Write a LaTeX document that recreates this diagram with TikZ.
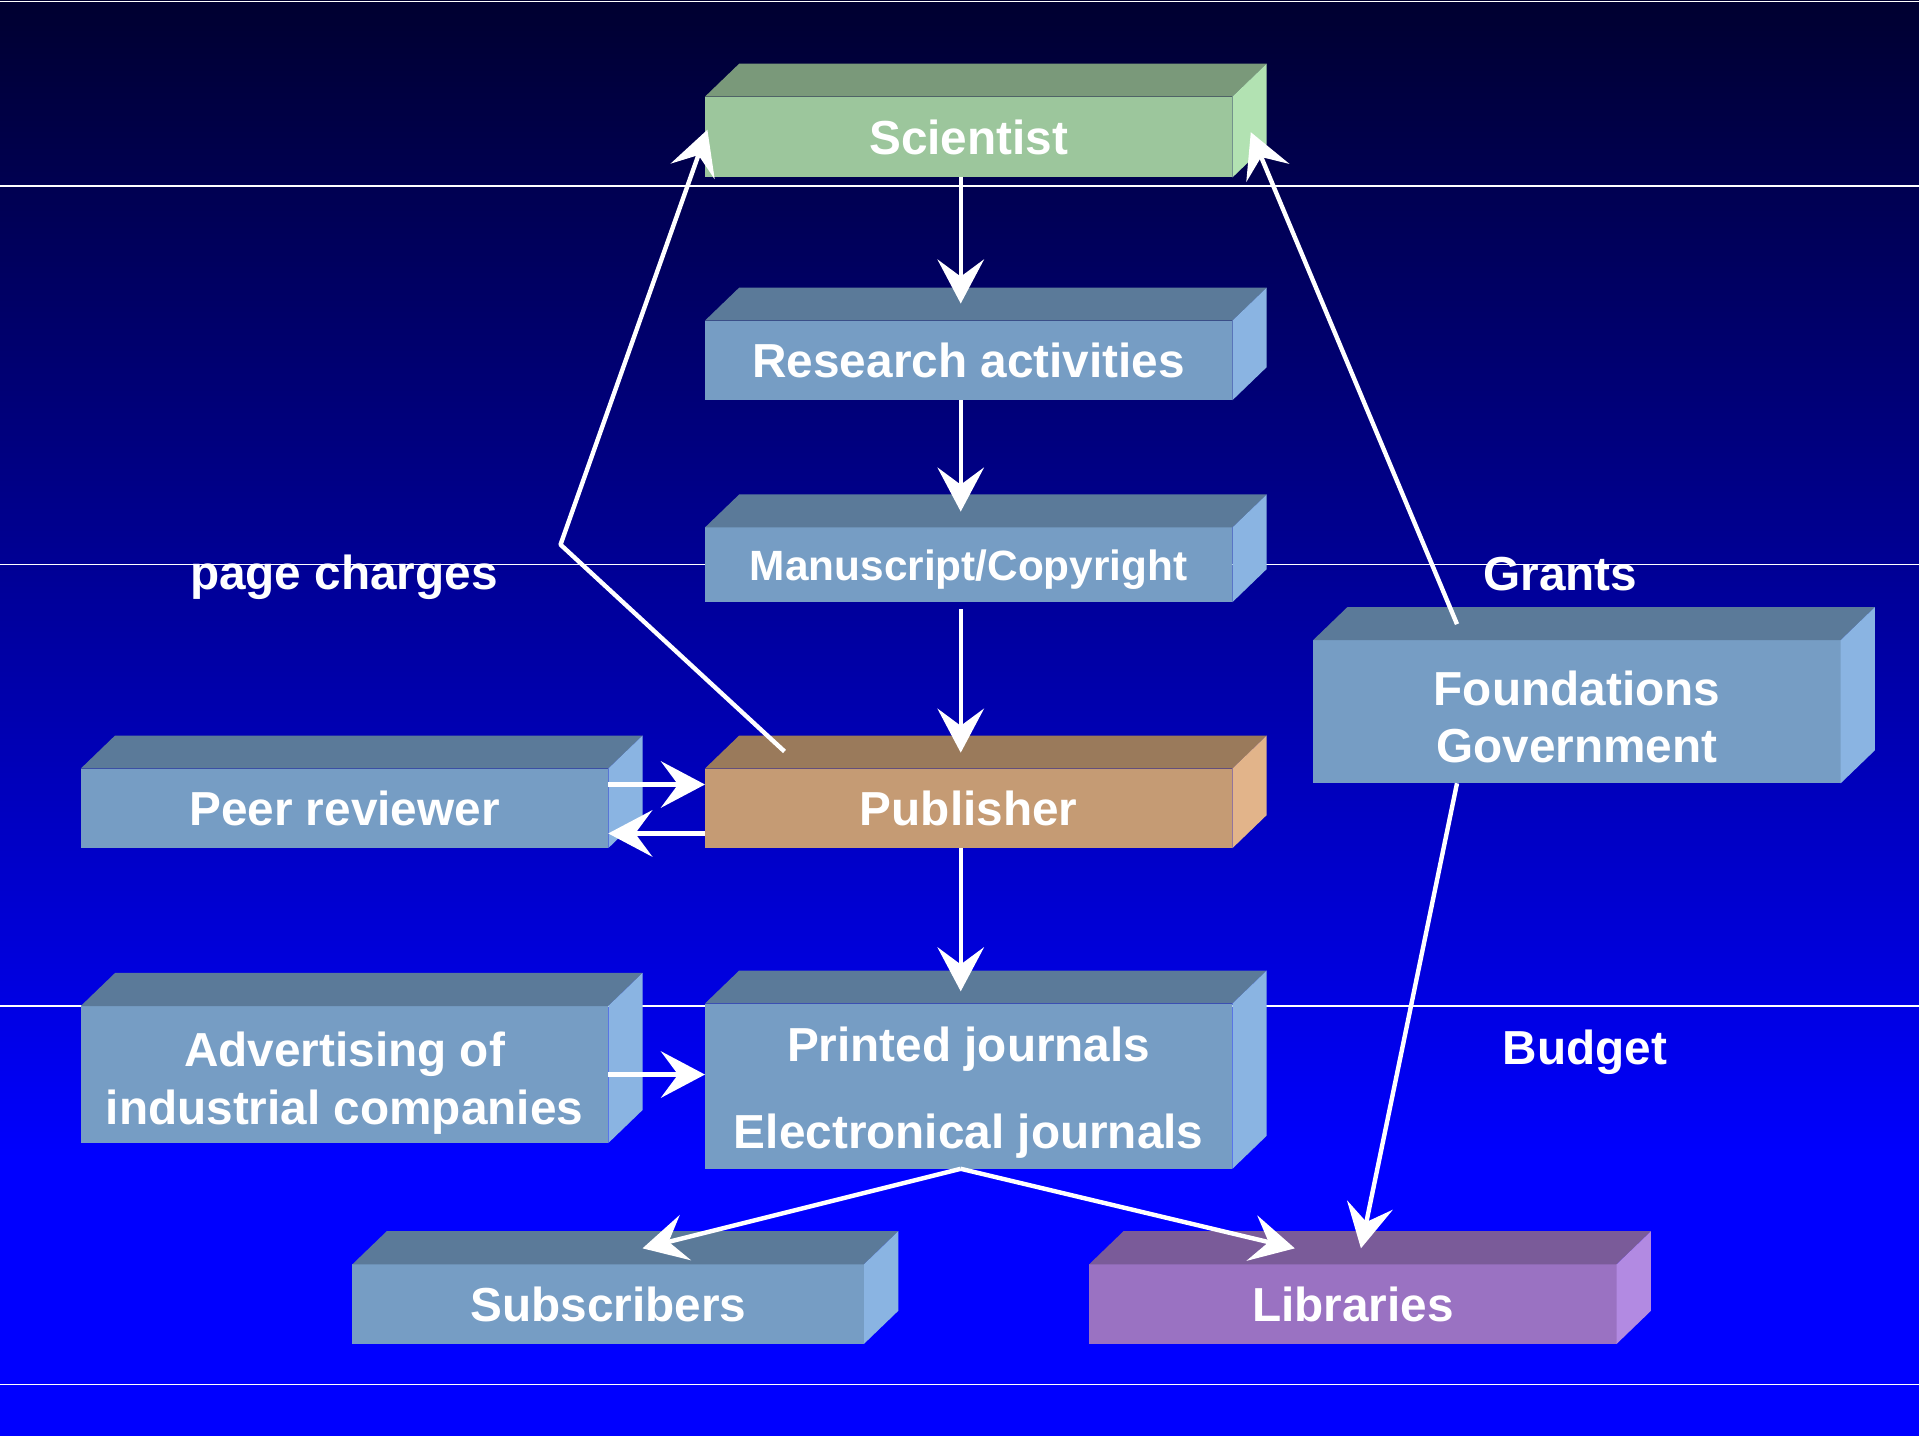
\documentclass[tikz,border=0pt]{standalone}
\usepackage{fontspec}
\setmainfont{Liberation Sans}
\usetikzlibrary{arrows.meta}
% colours of the faces
\definecolor{bgtop}{RGB}{0,0,48}
\definecolor{bgbot}{RGB}{0,0,255}
\definecolor{grnF}{RGB}{156,198,156}
\definecolor{grnT}{RGB}{122,153,122}
\definecolor{grnS}{RGB}{178,226,178}
\definecolor{bluF}{RGB}{118,157,196}
\definecolor{bluT}{RGB}{91,122,153}
\definecolor{bluS}{RGB}{138,180,226}
\definecolor{tanF}{RGB}{197,155,116}
\definecolor{tanT}{RGB}{154,122,91}
\definecolor{tanS}{RGB}{226,180,138}
\definecolor{vioF}{RGB}{154,114,194}
\definecolor{vioT}{RGB}{122,91,153}
\definecolor{vioS}{RGB}{178,138,226}
% top and side face of a block
\newcommand\faces[3]{%
  \fill[#2] (#1.north west) -- ++(\dx,\dy) -- ([shift={(\dx,\dy)}]#1.north east) -- (#1.north east) -- cycle;
  \fill[#3] (#1.north east) -- ++(\dx,\dy) -- ([shift={(\dx,\dy)}]#1.south east) -- (#1.south east) -- cycle;}
\begin{document}
\begin{tikzpicture}[x=0.5pt,y=-0.5pt,line join=round,
    >={Stealth[length=18pt,width=19pt,inset=7pt]},
    box/.style={minimum width=215.5pt,inner sep=0pt,outer sep=0pt,text=white,align=center,
      font=\bfseries\fontsize{19.5}{23.5}\selectfont},
    flow/.style={->,white,line width=1.8pt},
    note/.style={text=white,font=\bfseries\fontsize{19.5}{23.5}\selectfont}]
  \def\dx{14pt} % chieu sau ngang
  \def\dy{13.5pt} % chieu sau dung
  % nen
  \useasboundingbox (0,0) rectangle (1568,1173);
  \shade[top color=bgtop,bottom color=bgbot] (0,0) rectangle (1568,950);
  \fill[bgbot] (0,950) rectangle (1568,1173);
  \foreach \y in {1,152,461,822,1131}
    \draw[white,line width=0.5pt] (0,\y) -- (1568,\y);
  % khoi
  \node[box,fill=grnF,minimum height=33pt] (sci) at (791.5,112) {Scientist};
  \node[box,fill=bluF,minimum height=32.5pt] (res) at (791.5,294.5) {Research activities};
  \node[box,fill=bluF,minimum height=30.5pt,text depth=0pt,font=\bfseries\fontsize{17.3}{21}\selectfont] (man) at (791.5,461.5) {Manuscript/Copyright};
  \node[box,fill=tanF,minimum height=32.5pt] (pub) at (791.5,660.5) {Publisher};
  \node[box,fill=bluF,minimum height=67.5pt] (jour) at (791.5,887.5) {\rule{0pt}{19.5pt}Printed journals\\[12pt]Electronical journals};
  \node[box,fill=bluF,minimum height=32.5pt] (peer) at (281.5,660.5) {Peer reviewer};
  \node[box,fill=bluF,minimum height=56pt] (adv) at (281.5,878) {\rule{0pt}{21pt}Advertising of\\industrial companies};
  \node[box,fill=bluF,minimum height=58.5pt] (fund) at (1288.5,581.5) {\rule{0pt}{18.5pt}Foundations\\Government};
  \node[box,fill=bluF,minimum height=32.5pt,minimum width=209pt] (sub) at (497,1065.5) {Subscribers};
  \node[box,fill=vioF,minimum height=32.5pt] (lib) at (1105.5,1065.5) {Libraries};
  \faces{sci}{grnT}{grnS}
  \faces{res}{bluT}{bluS}
  \faces{man}{bluT}{bluS}
  \faces{pub}{tanT}{tanS}
  \faces{jour}{bluT}{bluS}
  \faces{peer}{bluT}{bluS}
  \faces{adv}{bluT}{bluS}
  \faces{fund}{bluT}{bluS}
  \faces{sub}{bluT}{bluS}
  \faces{lib}{vioT}{vioS}
  % nhan
  \node[note] (chg) at (281,472) {page charges};
  \node[note] (grt) at (1275,469) {Grants};
  \node[note] (bdg) at (1295,860) {Budget};
  \coordinate (bend) at (458,445);
  % mui ten
  \draw[flow] ([xshift=-3.25pt]sci.south) -- ([xshift=-3.25pt,yshift=7pt]res.north);
  \draw[flow] ([xshift=-3.25pt]res.south) -- ([xshift=-3.25pt,yshift=6.5pt]man.north);
  \draw[flow] ([xshift=-3.25pt,yshift=-3pt]man.south) -- ([xshift=-3.25pt,yshift=6.5pt]pub.north);
  \draw[flow] ([xshift=-3.25pt]pub.south) -- ([xshift=-3.25pt,yshift=5pt]jour.north);
  \draw[flow] ([yshift=9.75pt]peer.east) -- ([yshift=9.75pt]pub.west);
  \draw[flow] ([yshift=-10.25pt]pub.west) -- ([yshift=-10.25pt]peer.east);
  \draw[flow] (adv.east) -- (adv.east -| jour.west);
  \draw[flow] ([xshift=-3.25pt]jour.south) -- ([xshift=14pt,yshift=6.5pt]sub.north);
  \draw[flow] ([xshift=-3.25pt]jour.south) -- ([xshift=-23.75pt,yshift=6.5pt]lib.north);
  \draw[flow] ([xshift=-49pt]fund.south) -- ([xshift=3.25pt,yshift=6.5pt]lib.north);
  \draw[flow] ([xshift=-49pt,yshift=6.5pt]fund.north) -- ([xshift=7.5pt,yshift=2pt]sci.east);
  \draw[flow] ([xshift=32.5pt,yshift=7pt]pub.north west) -- (bend) -- ([xshift=1pt,yshift=3pt]sci.west);
\end{tikzpicture}
\end{document}
